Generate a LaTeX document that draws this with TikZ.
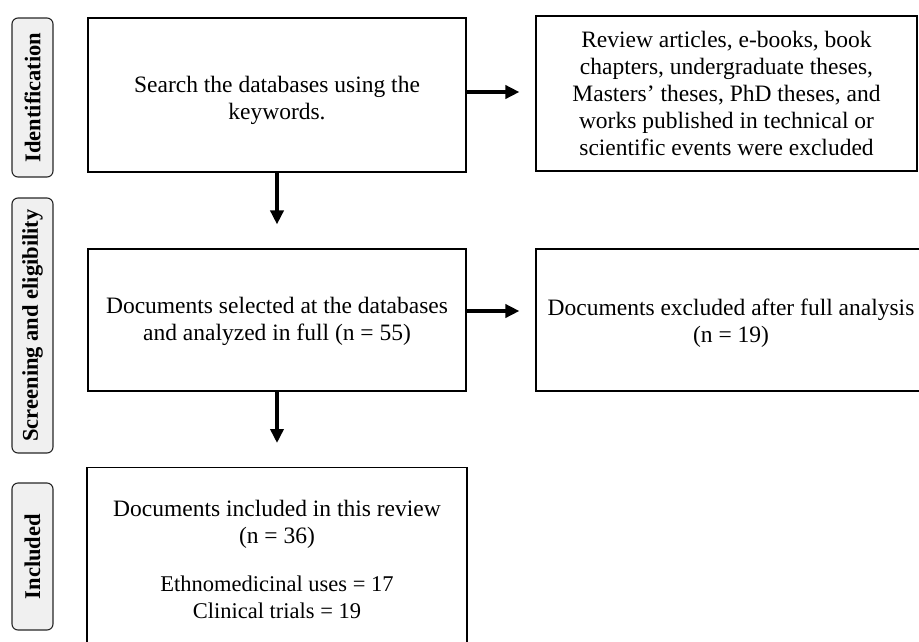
\documentclass[tikz,border=0pt]{standalone}
\usepackage{fontspec}
\setmainfont{Liberation Serif}
\usetikzlibrary{arrows.meta}

\tikzset{
  box/.style={draw, line width=1.1pt, inner sep=0pt},
  boxtext/.style={align=center, inner sep=0pt, font=\fontsize{23.5}{27}\selectfont},
  phase/.style={draw=black!85, fill=black!6, line width=1.1pt, rounded corners=6pt,
    rotate=90, minimum height=41pt, inner sep=0pt,
    font=\fontsize{22.5}{26}\selectfont\bfseries},
  flow/.style={-{Triangle[length=14pt,width=13pt]}, line width=4.5pt, shorten >=16pt}
}

% name, x, y, width, height, text shift, text
\newcommand\flowbox[7]{\node[box, minimum width=#4pt, minimum height=#5pt] (#1) at (#2,#3) {};
  \node[boxtext] (#1txt) at ([yshift=#6pt]#1.center) {#7};}

\begin{document}
\begin{tikzpicture}[x=1pt, y=-1pt]
    \useasboundingbox (0,0) rectangle (919,641);
    \clip (0,0) rectangle (919,641);

    % phases on the left
    \node[phase, minimum width=159pt] (ident) at (32.5,97.5) {Identification};
    \node[phase, minimum width=255pt] (screen) at (32.5,325.5) {Screening and eligibility};
    \node[phase, minimum width=147pt] (incl) at (32.5,556.5) {Included};

    % identification row
    \flowbox{search}{277}{95}{378}{154}{-5}{Search the databases using the\\keywords.}
    \flowbox{excl1}{726.5}{93.5}{381}{155}{0}{Review articles, e-books, book\\chapters, undergraduate theses,\\Masters' theses, PhD theses, and\\works published in technical or\\scientific events were excluded}

    % screening row
    \flowbox{select}{277}{320}{378}{142}{-1}{Documents selected at the databases\\and analyzed in full (n = 55)}
    \flowbox{excl2}{731}{320}{390}{142}{-3.5}{Documents excluded after full analysis\\(n = 19)}

    % included box (runs off the bottom)
    \node[box, minimum width=380pt, minimum height=190pt, anchor=north] (review) at (277,467) {};
    \node[boxtext, anchor=north] (reviewtxt) at ([yshift=-33pt]review.north)
        {Documents included in this review\\(n = 36)\\[21pt]
         {\fontsize{22.5}{27}\selectfont Ethnomedicinal uses = 17}\\
         {\fontsize{22.5}{27}\selectfont Clinical trials = 19}};

    % arrows
    \draw[flow] ([yshift=3pt]search.east) -- ([yshift=3pt]search.east -| excl1.west);
    \draw[flow] ([yshift=9pt]select.east) -- ([yshift=9pt]select.east -| excl2.west);
    \draw[flow, shorten >=24pt] (search.south) -- (select.north);
    \draw[flow, shorten >=24pt] (select.south) -- (review.north);
\end{tikzpicture}
\end{document}
